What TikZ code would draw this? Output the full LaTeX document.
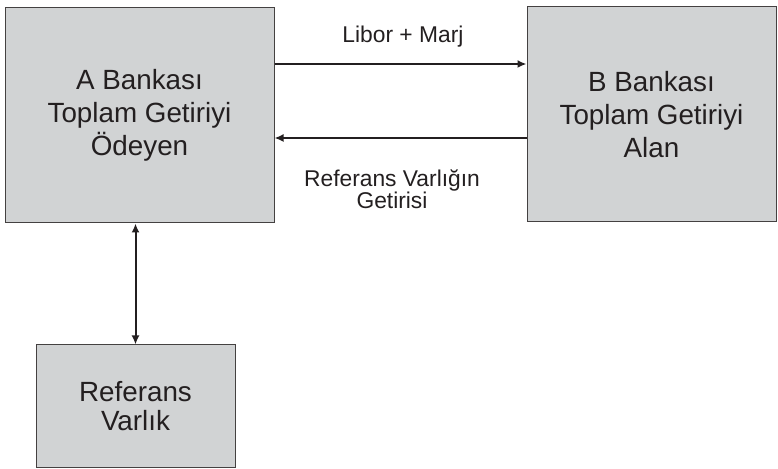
\documentclass[tikz,border=0pt]{standalone}
\usepackage{fontspec}
\setmainfont{Liberation Sans}
\usetikzlibrary{arrows.meta}

\definecolor{boxgray}{HTML}{D1D3D4}
\definecolor{ink}{HTML}{231F20}

\tikzset{
  bankbox/.style={draw=ink!85, line width=0.5pt, fill=boxgray, align=center,
    text=ink, inner sep=0pt, font=\fontsize{13.9}{16.5}\selectfont},
  assetbox/.style={bankbox, font=\fontsize{13.9}{14.5}\selectfont},
  flowlabel/.style={align=center, text=ink, inner sep=0pt,
    font=\fontsize{11.4}{11.2}\selectfont},
  flow/.style={line width=1pt, draw=ink, -{Latex[length=4.5pt,width=4pt]}}
}

\begin{document}
\begin{tikzpicture}[x=0.5pt,y=-0.5pt]
  \useasboundingbox (0,0) rectangle (778,469);

  % the three parties
  \node[bankbox, minimum width=134.5pt, minimum height=107.5pt] (A) at (139.5,115.5)
    {A Bankası\\Toplam Getiriyi\\Ödeyen};
  \node[bankbox, minimum width=124.5pt, minimum height=107.5pt] (B) at (651.5,114.5)
    {B Bankası\\Toplam Getiriyi\\Alan};
  \node[assetbox, minimum width=99.5pt, minimum height=61.5pt] (R) at (135.5,406.5)
    {Referans\\Varlık};

  % payment legs
  \draw[flow] ([yshift=25.75pt]A.east) -- ([yshift=25.75pt]A.east -| B.west);
  \draw[flow] ([yshift=-11.25pt]A.east -| B.west) -- ([yshift=-11.25pt]A.east);
  \draw[flow, {Latex[length=4.5pt,width=4pt]}-{Latex[length=4.5pt,width=4pt]}]
    (R.north) -- (R.north |- A.south);

  \node[flowlabel] (libor) at (403,37) {Libor + Marj};
  \node[flowlabel] (getiri) at (392,189) {Referans Varlığın\\Getirisi};
\end{tikzpicture}
\end{document}
